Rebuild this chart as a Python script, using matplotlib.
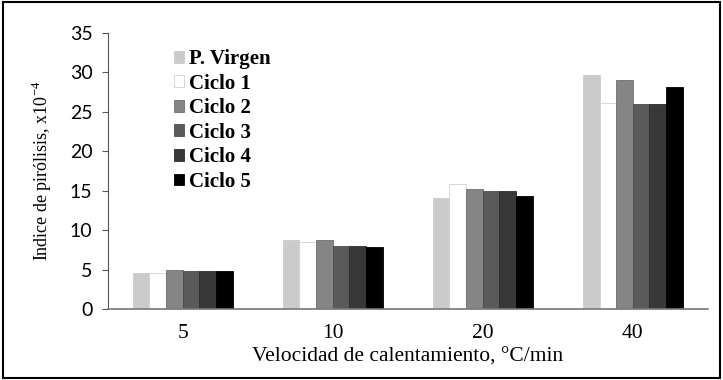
import matplotlib
matplotlib.use("Agg")
import matplotlib.pyplot as plt
import numpy as np

plt.rcParams['font.family'] = ['Liberation Serif', 'DejaVu Serif']
plt.rcParams['mathtext.fontset'] = 'custom'
plt.rcParams['mathtext.rm'] = 'Liberation Serif'

categories = ['5', '10', '20', '40']
series = ['P. Virgen', 'Ciclo 1', 'Ciclo 2', 'Ciclo 3', 'Ciclo 4', 'Ciclo 5']
p_virgen = [4.6, 8.7, 14.1, 29.7]
ciclo1 = [4.5, 8.5, 15.8, 26.1]
ciclo2 = [5.0, 8.7, 15.2, 29.1]
ciclo3 = [4.8, 8.0, 15.0, 26.0]
ciclo4 = [4.8, 8.0, 15.0, 26.0]
ciclo5 = [4.85, 7.8, 14.35, 28.2]
values = [p_virgen, ciclo1, ciclo2, ciclo3, ciclo4, ciclo5]

colors = ['#cbcbcb', '#ffffff', '#858585', '#5a5a5a', '#383838', '#000000']
edges = ['#cbcbcb', '#d0d0d0', '#6e6e6e', '#4a4a4a', '#2a2a2a', '#000000']

fig = plt.figure(figsize=(7.23, 3.80), dpi=100)
ax = fig.add_axes([0.149, 0.187, 0.830, 0.726])

x = np.arange(len(categories))
w = 0.111
for j, (name, vals) in enumerate(zip(series, values)):
    ax.bar(x + (j - 2.5) * w, vals, w, color=colors[j], edgecolor=edges[j],
           linewidth=0.6, label=name)

ax.set_xlim(-0.5, 3.5)
ax.set_ylim(0, 35)
ax.set_yticks(np.arange(0, 36, 5))
ax.set_xticks(x)
ax.set_xticklabels(categories)
ax.tick_params(axis='y', length=4, color='#555555', pad=7)
ax.tick_params(axis='x', labelsize=15.5, length=0, pad=11)
for lab in ax.get_yticklabels():
    lab.set_fontfamily(['Lato', 'DejaVu Sans'])
    lab.set_fontsize(14)
for s in ['top', 'right']:
    ax.spines[s].set_visible(False)
ax.spines['left'].set_color('#555555')
ax.spines['bottom'].set_color('#777777')
ax.spines['bottom'].set_linewidth(1.2)

ax.set_ylabel(r'Indice de pirólisis, x10$^{-4}$', fontsize=13, labelpad=11)
ax.set_xlabel('Velocidad de calentamiento, °C/min', fontsize=15.5, labelpad=3)

leg = ax.legend(loc='upper left', bbox_to_anchor=(0.093, 0.98), frameon=False,
                prop={'size': 15, 'weight': 'bold'}, handlelength=0.5, handleheight=0.5,
                handletextpad=0.2, labelspacing=0.22, borderpad=0)

fig.patches.append(plt.Rectangle((0.004, 0.006), 0.992, 0.988, transform=fig.transFigure,
                                 fill=False, edgecolor='black', linewidth=1.5))

fig.savefig('out.png', dpi=100)
